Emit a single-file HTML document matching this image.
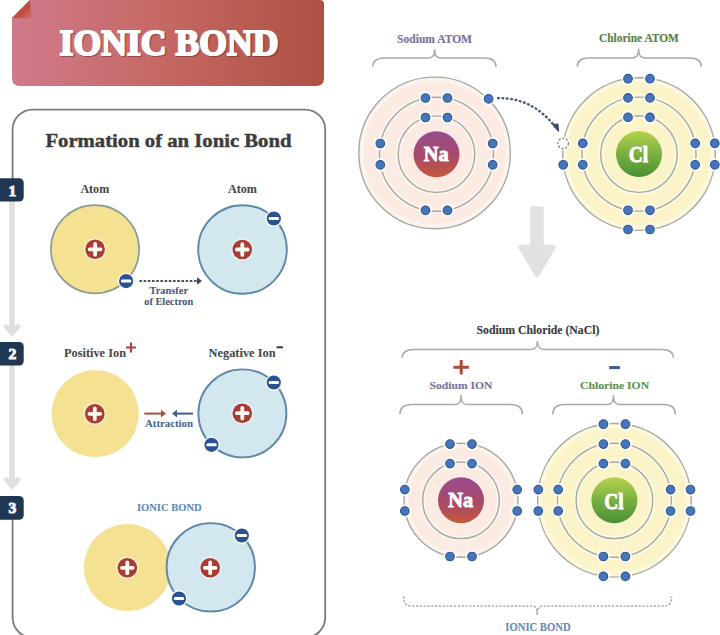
<!DOCTYPE html><html><head><meta charset="utf-8"><style>html,body{margin:0;padding:0;background:#fff;width:720px;height:635px;overflow:hidden}svg{display:block}</style></head><body>
<svg width="720" height="635" viewBox="0 0 720 635" font-family='"Liberation Serif", serif' font-weight="bold">
<defs>
<linearGradient id="ban" x1="0" y1="0" x2="1" y2="0">
<stop offset="0" stop-color="#d07a8c"/><stop offset="0.5" stop-color="#c56762"/><stop offset="1" stop-color="#ad5142"/></linearGradient>
<linearGradient id="na" x1="0" y1="0" x2="0" y2="1">
<stop offset="0" stop-color="#974c90"/><stop offset="0.55" stop-color="#a84a68"/><stop offset="1" stop-color="#c4583a"/></linearGradient>
<linearGradient id="cl" x1="0" y1="0" x2="0" y2="1">
<stop offset="0" stop-color="#b6d24c"/><stop offset="0.5" stop-color="#78b040"/><stop offset="1" stop-color="#4a9036"/></linearGradient>
<linearGradient id="fold" x1="0" y1="0" x2="1" y2="1">
<stop offset="0" stop-color="#a8402e"/><stop offset="0.6" stop-color="#c24f3e"/><stop offset="1" stop-color="#d07080"/></linearGradient>
</defs>
<path d="M12,17.5 L29.5,0 L320,0 Q324,0 324,4 L324,78 Q324,86 316,86 L20,86 Q12,86 12,78 Z" fill="url(#ban)"/>
<path d="M12.5,18 L30,0.5 L31.5,18.5 Z" fill="url(#fold)"/>
<text x="60.7" y="56.4" font-size="35.11" fill="#5a2020" opacity="0.45" stroke="#5a2020" stroke-width="2" stroke-linejoin="round" textLength="219" lengthAdjust="spacingAndGlyphs">IONIC BOND</text>
<text x="59.5" y="54.8" font-size="35.11" fill="#ffffff" stroke="#ffffff" stroke-width="2" stroke-linejoin="round" textLength="219" lengthAdjust="spacingAndGlyphs">IONIC BOND</text>
<rect x="12.6" y="109.6" width="312.6" height="528" rx="20" ry="20" fill="none" stroke="#7c7c7c" stroke-width="1.8"/>
<text x="45.4" y="146.6" font-size="19.54" fill="#3c3c3c" stroke="#3c3c3c" stroke-width="0.45" textLength="246.1" lengthAdjust="spacingAndGlyphs">Formation of an Ionic Bond</text>
<rect x="10" y="200" width="6" height="297" fill="#ffffff"/>
<rect x="9.3" y="201" width="5.6" height="129" fill="#dfdfdf"/>
<path d="M3.8,326.5 L6.6,324.2 L12.1,330.0 L17.6,324.2 L20.6,326.5 L12.1,336.5 Z" fill="#dfdfdf" stroke="#dfdfdf" stroke-width="1" stroke-linejoin="round"/>
<rect x="9.3" y="365" width="5.6" height="119" fill="#dfdfdf"/>
<path d="M3.8,479.5 L6.6,477.2 L12.1,483.0 L17.6,477.2 L20.6,479.5 L12.1,489.5 Z" fill="#dfdfdf" stroke="#dfdfdf" stroke-width="1" stroke-linejoin="round"/>
<rect x="-6" y="178.2" width="29.7" height="23.30000000000001" rx="4.5" fill="#1f3753"/>
<text x="12.3" y="195.5" text-anchor="middle" font-size="15.5" fill="#f4f4f4" stroke="#f4f4f4" stroke-width="1">1</text>
<rect x="-6" y="342" width="29.7" height="23.5" rx="4.5" fill="#1f3753"/>
<text x="12.3" y="359.3" text-anchor="middle" font-size="15.5" fill="#f4f4f4" stroke="#f4f4f4" stroke-width="1">2</text>
<rect x="-6" y="496" width="29.7" height="23.799999999999955" rx="4.5" fill="#1f3753"/>
<text x="12.3" y="513.3" text-anchor="middle" font-size="15.5" fill="#f4f4f4" stroke="#f4f4f4" stroke-width="1">3</text>
<text x="80.4" y="192.9" font-size="12.06" fill="#464646" stroke="#464646" stroke-width="0.05" textLength="28.8" lengthAdjust="spacingAndGlyphs">Atom</text>
<circle cx="95" cy="249.2" r="44.1" fill="#f5e192" stroke="#8b9c96" stroke-width="1.7"/>
<circle cx="95.1" cy="249.3" r="11.200000000000001" fill="#ffffff" fill-opacity="0.55"/>
<circle cx="95.1" cy="249.3" r="9.8" fill="#a83d36"/>
<path d="M89.69999999999999,249.3 H100.5 M95.1,243.9 V254.70000000000002" stroke="#fffbf0" stroke-width="3.8" stroke-linecap="round"/>
<circle cx="126.1" cy="281.1" r="8.4" fill="#fff" fill-opacity="0.9"/>
<circle cx="126.1" cy="281.1" r="7.1" fill="#2c5290"/>
<path d="M122.3,281.1 H129.9" stroke="#fff" stroke-width="3" stroke-linecap="round"/>
<text x="227.9" y="192.9" font-size="12.06" fill="#464646" stroke="#464646" stroke-width="0.05" textLength="29.0" lengthAdjust="spacingAndGlyphs">Atom</text>
<circle cx="242.5" cy="249.5" r="44.3" fill="#d2e7ee" stroke="#6088a8" stroke-width="1.9"/>
<circle cx="242.3" cy="249.5" r="11.200000000000001" fill="#ffffff" fill-opacity="0.55"/>
<circle cx="242.3" cy="249.5" r="9.8" fill="#a83d36"/>
<path d="M236.9,249.5 H247.70000000000002 M242.3,244.1 V254.9" stroke="#fffbf0" stroke-width="3.8" stroke-linecap="round"/>
<circle cx="273.8" cy="218.5" r="8.4" fill="#fff" fill-opacity="0.9"/>
<circle cx="273.8" cy="218.5" r="7.1" fill="#2c5290"/>
<path d="M270.0,218.5 H277.6" stroke="#fff" stroke-width="3" stroke-linecap="round"/>
<line x1="139.4" y1="281" x2="198" y2="281" stroke="#4a5070" stroke-width="2.2" stroke-dasharray="2.6,1.6"/>
<path d="M197,277.3 L202,281 L197,284.7 Z" fill="#3e4668"/>
<text x="149.6" y="294.3" font-size="10.38" fill="#4e5674" stroke="#4e5674" stroke-width="0.05" textLength="38.4" lengthAdjust="spacingAndGlyphs">Transfer</text>
<text x="144.2" y="305.0" font-size="11.15" fill="#4e5674" stroke="#4e5674" stroke-width="0.05" textLength="49.1" lengthAdjust="spacingAndGlyphs">of Electron</text>
<text x="64.0" y="357.2" font-size="12.60" fill="#464646" stroke="#464646" stroke-width="0.05" textLength="62.0" lengthAdjust="spacingAndGlyphs">Positive Ion</text>
<path d="M126,347.5 H136 M131,342.5 V352.5" stroke="#a8443c" stroke-width="2.2"/>
<circle cx="95.2" cy="413.7" r="43.6" fill="#f5e192"/>
<circle cx="94.8" cy="413.8" r="11.200000000000001" fill="#ffffff" fill-opacity="0.55"/>
<circle cx="94.8" cy="413.8" r="9.8" fill="#a83d36"/>
<path d="M89.39999999999999,413.8 H100.2 M94.8,408.40000000000003 V419.2" stroke="#fffbf0" stroke-width="3.8" stroke-linecap="round"/>
<text x="208.5" y="357.2" font-size="12.98" fill="#464646" stroke="#464646" stroke-width="0.05" textLength="67.1" lengthAdjust="spacingAndGlyphs">Negative Ion</text>
<rect x="276.5" y="346.3" width="6.6" height="2" fill="#383838"/>
<circle cx="242.4" cy="413.4" r="44" fill="#d2e7ee" stroke="#6088a8" stroke-width="1.9"/>
<circle cx="242.3" cy="413.2" r="11.200000000000001" fill="#ffffff" fill-opacity="0.55"/>
<circle cx="242.3" cy="413.2" r="9.8" fill="#a83d36"/>
<path d="M236.9,413.2 H247.70000000000002 M242.3,407.8 V418.59999999999997" stroke="#fffbf0" stroke-width="3.8" stroke-linecap="round"/>
<circle cx="273.8" cy="382.5" r="8.4" fill="#fff" fill-opacity="0.9"/>
<circle cx="273.8" cy="382.5" r="7.1" fill="#2c5290"/>
<path d="M270.0,382.5 H277.6" stroke="#fff" stroke-width="3" stroke-linecap="round"/>
<circle cx="211.5" cy="444.8" r="8.4" fill="#fff" fill-opacity="0.9"/>
<circle cx="211.5" cy="444.8" r="7.1" fill="#2c5290"/>
<path d="M207.7,444.8 H215.3" stroke="#fff" stroke-width="3" stroke-linecap="round"/>
<line x1="144.3" y1="413.6" x2="162" y2="413.6" stroke="#a8503e" stroke-width="2"/><path d="M161,409.8 L166,413.6 L161,417.4 Z" fill="#a8503e"/>
<line x1="176" y1="413.6" x2="193" y2="413.6" stroke="#405e88" stroke-width="2"/><path d="M177,409.8 L172,413.6 L177,417.4 Z" fill="#405e88"/>
<text x="145.0" y="427.2" font-size="10.53" fill="#46648c" stroke="#46648c" stroke-width="0.05" textLength="48.0" lengthAdjust="spacingAndGlyphs">Attraction</text>
<text x="136.9" y="510.6" font-size="11.15" fill="#6089b5" stroke="#6089b5" stroke-width="0.1" textLength="64.8" lengthAdjust="spacingAndGlyphs">IONIC BOND</text>
<circle cx="127.4" cy="567.6" r="43.6" fill="#f5e192"/>
<circle cx="210.8" cy="567.3" r="44.2" fill="#d2e7ee" stroke="#6088a8" stroke-width="1.9"/>
<circle cx="127.3" cy="567.8" r="11.200000000000001" fill="#ffffff" fill-opacity="0.55"/>
<circle cx="127.3" cy="567.8" r="9.8" fill="#a83d36"/>
<path d="M121.89999999999999,567.8 H132.7 M127.3,562.4 V573.1999999999999" stroke="#fffbf0" stroke-width="3.8" stroke-linecap="round"/>
<circle cx="210.2" cy="567.8" r="11.200000000000001" fill="#ffffff" fill-opacity="0.55"/>
<circle cx="210.2" cy="567.8" r="9.8" fill="#a83d36"/>
<path d="M204.79999999999998,567.8 H215.6 M210.2,562.4 V573.1999999999999" stroke="#fffbf0" stroke-width="3.8" stroke-linecap="round"/>
<circle cx="241.8" cy="535.5" r="8.4" fill="#fff" fill-opacity="0.9"/>
<circle cx="241.8" cy="535.5" r="7.1" fill="#2c5290"/>
<path d="M238.0,535.5 H245.60000000000002" stroke="#fff" stroke-width="3" stroke-linecap="round"/>
<circle cx="179" cy="598.5" r="8.4" fill="#fff" fill-opacity="0.9"/>
<circle cx="179" cy="598.5" r="7.1" fill="#2c5290"/>
<path d="M175.2,598.5 H182.8" stroke="#fff" stroke-width="3" stroke-linecap="round"/>
<text x="397.1" y="42.5" font-size="11.91" fill="#7a7098" stroke="#7a7098" stroke-width="0.15" textLength="74.9" lengthAdjust="spacingAndGlyphs">Sodium ATOM</text>
<path d="M372.6,66.8 C372.6,61.7 376.20000000000005,58.1 384.6,58.1 L427.6,58.1 C432.5,58.1 434.6,56.1 434.6,49.3 C434.6,56.1 436.70000000000005,58.1 441.6,58.1 L484,58.1 C492.4,58.1 496,61.7 496,66.8" fill="none" stroke="#a9a9a9" stroke-width="1.5"/>
<text x="599.0" y="42.4" font-size="11.76" fill="#5a8048" stroke="#5a8048" stroke-width="0.15" textLength="79.9" lengthAdjust="spacingAndGlyphs">Chlorine ATOM</text>
<path d="M577.3,66.8 C577.3,61.6 580.9,58 589.3,58 L631.6,58 C636.5,58 638.6,56 638.6,48.6 C638.6,56 640.7,58 645.6,58 L689.3,58 C697.6999999999999,58 701.3,61.6 701.3,66.8" fill="none" stroke="#a9a9a9" stroke-width="1.5"/>
<circle cx="434.6" cy="152.9" r="75.8" fill="#fbebe3"/>
<circle cx="436.5" cy="154.2" r="38.3" fill="none" stroke="#ffffff" stroke-opacity="0.45" stroke-width="5"/>
<circle cx="436.5" cy="154.2" r="57" fill="none" stroke="#ffffff" stroke-opacity="0.45" stroke-width="5"/>
<circle cx="434.6" cy="152.9" r="73.3" fill="none" stroke="#ffffff" stroke-opacity="0.4" stroke-width="4"/>
<circle cx="436.5" cy="154.2" r="38.3" fill="none" stroke="#a5a9a0" stroke-width="1.4"/>
<circle cx="436.5" cy="154.2" r="57" fill="none" stroke="#a5a9a0" stroke-width="1.4"/>
<circle cx="434.6" cy="152.9" r="75.8" fill="none" stroke="#a5a9a0" stroke-width="1.4"/>
<circle cx="436.5" cy="154.2" r="23" fill="url(#na)"/>
<text x="423.8" y="160.8" font-size="21.07" fill="#ffffff" stroke="#ffffff" stroke-width="0.9" textLength="24.8" lengthAdjust="spacingAndGlyphs">Na</text>
<circle cx="425.5" cy="117.5" r="6.6" fill="#ffffff" fill-opacity="0.8"/>
<circle cx="425.5" cy="117.5" r="4.3" fill="#4675b8" stroke="#2d5794" stroke-width="1.1"/>
<circle cx="447.5" cy="117.5" r="6.6" fill="#ffffff" fill-opacity="0.8"/>
<circle cx="447.5" cy="117.5" r="4.3" fill="#4675b8" stroke="#2d5794" stroke-width="1.1"/>
<circle cx="425.5" cy="98.0" r="6.6" fill="#ffffff" fill-opacity="0.8"/>
<circle cx="425.5" cy="98.0" r="4.3" fill="#4675b8" stroke="#2d5794" stroke-width="1.1"/>
<circle cx="447.5" cy="98.0" r="6.6" fill="#ffffff" fill-opacity="0.8"/>
<circle cx="447.5" cy="98.0" r="4.3" fill="#4675b8" stroke="#2d5794" stroke-width="1.1"/>
<circle cx="425.5" cy="210.4" r="6.6" fill="#ffffff" fill-opacity="0.8"/>
<circle cx="425.5" cy="210.4" r="4.3" fill="#4675b8" stroke="#2d5794" stroke-width="1.1"/>
<circle cx="447.5" cy="210.4" r="6.6" fill="#ffffff" fill-opacity="0.8"/>
<circle cx="447.5" cy="210.4" r="4.3" fill="#4675b8" stroke="#2d5794" stroke-width="1.1"/>
<circle cx="380.3" cy="143.5" r="6.6" fill="#ffffff" fill-opacity="0.8"/>
<circle cx="380.3" cy="143.5" r="4.3" fill="#4675b8" stroke="#2d5794" stroke-width="1.1"/>
<circle cx="380.3" cy="164.9" r="6.6" fill="#ffffff" fill-opacity="0.8"/>
<circle cx="380.3" cy="164.9" r="4.3" fill="#4675b8" stroke="#2d5794" stroke-width="1.1"/>
<circle cx="492.7" cy="143.5" r="6.6" fill="#ffffff" fill-opacity="0.8"/>
<circle cx="492.7" cy="143.5" r="4.3" fill="#4675b8" stroke="#2d5794" stroke-width="1.1"/>
<circle cx="492.7" cy="164.9" r="6.6" fill="#ffffff" fill-opacity="0.8"/>
<circle cx="492.7" cy="164.9" r="4.3" fill="#4675b8" stroke="#2d5794" stroke-width="1.1"/>
<circle cx="488.6" cy="98.9" r="6.6" fill="#ffffff" fill-opacity="0.8"/>
<circle cx="488.6" cy="98.9" r="4.3" fill="#4675b8" stroke="#2d5794" stroke-width="1.1"/>
<circle cx="639" cy="154.1" r="76.3" fill="#fcf4c9"/>
<circle cx="639" cy="154.1" r="38.3" fill="none" stroke="#ffffff" stroke-opacity="0.45" stroke-width="5"/>
<circle cx="639" cy="154.1" r="57" fill="none" stroke="#ffffff" stroke-opacity="0.45" stroke-width="5"/>
<circle cx="639" cy="154.1" r="73.8" fill="none" stroke="#ffffff" stroke-opacity="0.4" stroke-width="4"/>
<circle cx="639" cy="154.1" r="38.3" fill="none" stroke="#a5a9a0" stroke-width="1.4"/>
<circle cx="639" cy="154.1" r="57" fill="none" stroke="#a5a9a0" stroke-width="1.4"/>
<circle cx="639" cy="154.1" r="76.3" fill="none" stroke="#a5a9a0" stroke-width="1.4"/>
<circle cx="639" cy="154.1" r="23" fill="url(#cl)"/>
<text x="628.8" y="162.3" font-size="23.21" fill="#ffffff" stroke="#ffffff" stroke-width="0.9" textLength="19.4" lengthAdjust="spacingAndGlyphs">Cl</text>
<circle cx="628.0" cy="117.4" r="6.6" fill="#ffffff" fill-opacity="0.8"/>
<circle cx="628.0" cy="117.4" r="4.3" fill="#4675b8" stroke="#2d5794" stroke-width="1.1"/>
<circle cx="650.0" cy="117.4" r="6.6" fill="#ffffff" fill-opacity="0.8"/>
<circle cx="650.0" cy="117.4" r="4.3" fill="#4675b8" stroke="#2d5794" stroke-width="1.1"/>
<circle cx="628.0" cy="97.9" r="6.6" fill="#ffffff" fill-opacity="0.8"/>
<circle cx="628.0" cy="97.9" r="4.3" fill="#4675b8" stroke="#2d5794" stroke-width="1.1"/>
<circle cx="650.0" cy="97.9" r="6.6" fill="#ffffff" fill-opacity="0.8"/>
<circle cx="650.0" cy="97.9" r="4.3" fill="#4675b8" stroke="#2d5794" stroke-width="1.1"/>
<circle cx="628.0" cy="210.3" r="6.6" fill="#ffffff" fill-opacity="0.8"/>
<circle cx="628.0" cy="210.3" r="4.3" fill="#4675b8" stroke="#2d5794" stroke-width="1.1"/>
<circle cx="650.0" cy="210.3" r="6.6" fill="#ffffff" fill-opacity="0.8"/>
<circle cx="650.0" cy="210.3" r="4.3" fill="#4675b8" stroke="#2d5794" stroke-width="1.1"/>
<circle cx="582.8" cy="143.4" r="6.6" fill="#ffffff" fill-opacity="0.8"/>
<circle cx="582.8" cy="143.4" r="4.3" fill="#4675b8" stroke="#2d5794" stroke-width="1.1"/>
<circle cx="582.8" cy="164.8" r="6.6" fill="#ffffff" fill-opacity="0.8"/>
<circle cx="582.8" cy="164.8" r="4.3" fill="#4675b8" stroke="#2d5794" stroke-width="1.1"/>
<circle cx="695.2" cy="143.4" r="6.6" fill="#ffffff" fill-opacity="0.8"/>
<circle cx="695.2" cy="143.4" r="4.3" fill="#4675b8" stroke="#2d5794" stroke-width="1.1"/>
<circle cx="695.2" cy="164.8" r="6.6" fill="#ffffff" fill-opacity="0.8"/>
<circle cx="695.2" cy="164.8" r="4.3" fill="#4675b8" stroke="#2d5794" stroke-width="1.1"/>
<circle cx="628.0" cy="78.7" r="6.6" fill="#ffffff" fill-opacity="0.8"/>
<circle cx="628.0" cy="78.7" r="4.3" fill="#4675b8" stroke="#2d5794" stroke-width="1.1"/>
<circle cx="650.0" cy="78.7" r="6.6" fill="#ffffff" fill-opacity="0.8"/>
<circle cx="650.0" cy="78.7" r="4.3" fill="#4675b8" stroke="#2d5794" stroke-width="1.1"/>
<circle cx="628.0" cy="229.5" r="6.6" fill="#ffffff" fill-opacity="0.8"/>
<circle cx="628.0" cy="229.5" r="4.3" fill="#4675b8" stroke="#2d5794" stroke-width="1.1"/>
<circle cx="650.0" cy="229.5" r="6.6" fill="#ffffff" fill-opacity="0.8"/>
<circle cx="650.0" cy="229.5" r="4.3" fill="#4675b8" stroke="#2d5794" stroke-width="1.1"/>
<circle cx="563.2" cy="164.8" r="6.6" fill="#ffffff" fill-opacity="0.8"/>
<circle cx="563.2" cy="164.8" r="4.3" fill="#4675b8" stroke="#2d5794" stroke-width="1.1"/>
<circle cx="714.8" cy="143.4" r="6.6" fill="#ffffff" fill-opacity="0.8"/>
<circle cx="714.8" cy="143.4" r="4.3" fill="#4675b8" stroke="#2d5794" stroke-width="1.1"/>
<circle cx="714.8" cy="164.8" r="6.6" fill="#ffffff" fill-opacity="0.8"/>
<circle cx="714.8" cy="164.8" r="4.3" fill="#4675b8" stroke="#2d5794" stroke-width="1.1"/>
<circle cx="563.2" cy="143.4" r="7" fill="#fff"/>
<circle cx="563.2" cy="143.4" r="5.2" fill="#fff" stroke="#7d8288" stroke-width="1.3" stroke-dasharray="2.2,1.6"/>
<path d="M497,98.2 Q533,97 556,128" fill="none" stroke="#4a5673" stroke-width="2.3" stroke-dasharray="2.8,1.6"/>
<path d="M552.5,124.5 L558.5,131.5 L558,124 Z" fill="#3f4a6a" stroke="#3f4a6a" stroke-width="1" stroke-linejoin="round"/>
<path d="M532.5,208.5 L541.5,208.5 L541.5,247 L553.5,247 L537,275 L520.5,247 L532.5,247 Z" fill="#e1e1e1" stroke="#e1e1e1" stroke-width="4.5" stroke-linejoin="round"/>
<text x="476.5" y="334.2" font-size="11.76" fill="#3a3a3a" stroke="#3a3a3a" stroke-width="0.15" textLength="122.9" lengthAdjust="spacingAndGlyphs">Sodium Chloride (NaCl)</text>
<path d="M402.2,357.8 C402.2,353.0 405.8,349.4 414.2,349.4 L530.5,349.4 C535.4,349.4 537.5,347.4 537.5,341 C537.5,347.4 539.6,349.4 544.5,349.4 L661.3,349.4 C669.6999999999999,349.4 673.3,353.0 673.3,357.8" fill="none" stroke="#a9a9a9" stroke-width="1.5"/>
<path d="M453.4,367.2 H468.9 M461.2,359.9 V374.5" stroke="#ad4a3a" stroke-width="3"/>
<rect x="609.2" y="366.1" width="10.7" height="3" fill="#3e5a8a"/>
<text x="429.6" y="389.0" font-size="10.38" fill="#7a76a2" stroke="#7a76a2" stroke-width="0.15" textLength="62.7" lengthAdjust="spacingAndGlyphs">Sodium ION</text>
<text x="580.0" y="389.0" font-size="10.99" fill="#5f9352" stroke="#5f9352" stroke-width="0.15" textLength="69.1" lengthAdjust="spacingAndGlyphs">Chlorine ION</text>
<path d="M399.9,414.3 C399.9,408.20000000000005 403.5,404.6 411.9,404.6 L454.1,404.6 C459.0,404.6 461.1,402.6 461.1,394.9 C461.1,402.6 463.20000000000005,404.6 468.1,404.6 L510.4,404.6 C518.8,404.6 522.4,408.20000000000005 522.4,414.3" fill="none" stroke="#a9a9a9" stroke-width="1.5"/>
<path d="M552.8,414.3 C552.8,408.20000000000005 556.4,404.6 564.8,404.6 L606.5,404.6 C611.4,404.6 613.5,402.6 613.5,394.9 C613.5,402.6 615.6,404.6 620.5,404.6 L663.4,404.6 C671.8,404.6 675.4,408.20000000000005 675.4,414.3" fill="none" stroke="#a9a9a9" stroke-width="1.5"/>
<circle cx="461" cy="500.3" r="57" fill="#fbebe3"/>
<circle cx="461" cy="500.3" r="38.3" fill="none" stroke="#ffffff" stroke-opacity="0.45" stroke-width="5"/>
<circle cx="461" cy="500.3" r="54.5" fill="none" stroke="#ffffff" stroke-opacity="0.4" stroke-width="4"/>
<circle cx="461" cy="500.3" r="38.3" fill="none" stroke="#a5a9a0" stroke-width="1.4"/>
<circle cx="461" cy="500.3" r="57" fill="none" stroke="#a5a9a0" stroke-width="1.4"/>
<circle cx="461" cy="500.3" r="23" fill="url(#na)"/>
<text x="448.3" y="506.9" font-size="21.07" fill="#ffffff" stroke="#ffffff" stroke-width="0.9" textLength="24.8" lengthAdjust="spacingAndGlyphs">Na</text>
<circle cx="450.0" cy="463.6" r="6.6" fill="#ffffff" fill-opacity="0.8"/>
<circle cx="450.0" cy="463.6" r="4.3" fill="#4675b8" stroke="#2d5794" stroke-width="1.1"/>
<circle cx="472.0" cy="463.6" r="6.6" fill="#ffffff" fill-opacity="0.8"/>
<circle cx="472.0" cy="463.6" r="4.3" fill="#4675b8" stroke="#2d5794" stroke-width="1.1"/>
<circle cx="450.0" cy="444.1" r="6.6" fill="#ffffff" fill-opacity="0.8"/>
<circle cx="450.0" cy="444.1" r="4.3" fill="#4675b8" stroke="#2d5794" stroke-width="1.1"/>
<circle cx="472.0" cy="444.1" r="6.6" fill="#ffffff" fill-opacity="0.8"/>
<circle cx="472.0" cy="444.1" r="4.3" fill="#4675b8" stroke="#2d5794" stroke-width="1.1"/>
<circle cx="450.0" cy="556.5" r="6.6" fill="#ffffff" fill-opacity="0.8"/>
<circle cx="450.0" cy="556.5" r="4.3" fill="#4675b8" stroke="#2d5794" stroke-width="1.1"/>
<circle cx="472.0" cy="556.5" r="6.6" fill="#ffffff" fill-opacity="0.8"/>
<circle cx="472.0" cy="556.5" r="4.3" fill="#4675b8" stroke="#2d5794" stroke-width="1.1"/>
<circle cx="404.8" cy="489.6" r="6.6" fill="#ffffff" fill-opacity="0.8"/>
<circle cx="404.8" cy="489.6" r="4.3" fill="#4675b8" stroke="#2d5794" stroke-width="1.1"/>
<circle cx="404.8" cy="511.0" r="6.6" fill="#ffffff" fill-opacity="0.8"/>
<circle cx="404.8" cy="511.0" r="4.3" fill="#4675b8" stroke="#2d5794" stroke-width="1.1"/>
<circle cx="517.2" cy="489.6" r="6.6" fill="#ffffff" fill-opacity="0.8"/>
<circle cx="517.2" cy="489.6" r="4.3" fill="#4675b8" stroke="#2d5794" stroke-width="1.1"/>
<circle cx="517.2" cy="511.0" r="6.6" fill="#ffffff" fill-opacity="0.8"/>
<circle cx="517.2" cy="511.0" r="4.3" fill="#4675b8" stroke="#2d5794" stroke-width="1.1"/>
<circle cx="614.4" cy="500.3" r="76.8" fill="#fcf4c9"/>
<circle cx="614.4" cy="500.3" r="38.3" fill="none" stroke="#ffffff" stroke-opacity="0.45" stroke-width="5"/>
<circle cx="614.4" cy="500.3" r="57" fill="none" stroke="#ffffff" stroke-opacity="0.45" stroke-width="5"/>
<circle cx="614.4" cy="500.3" r="74.3" fill="none" stroke="#ffffff" stroke-opacity="0.4" stroke-width="4"/>
<circle cx="614.4" cy="500.3" r="38.3" fill="none" stroke="#a5a9a0" stroke-width="1.4"/>
<circle cx="614.4" cy="500.3" r="57" fill="none" stroke="#a5a9a0" stroke-width="1.4"/>
<circle cx="614.4" cy="500.3" r="76.8" fill="none" stroke="#a5a9a0" stroke-width="1.4"/>
<circle cx="614.4" cy="500.3" r="23" fill="url(#cl)"/>
<text x="604.2" y="508.5" font-size="23.21" fill="#ffffff" stroke="#ffffff" stroke-width="0.9" textLength="19.4" lengthAdjust="spacingAndGlyphs">Cl</text>
<circle cx="603.4" cy="463.6" r="6.6" fill="#ffffff" fill-opacity="0.8"/>
<circle cx="603.4" cy="463.6" r="4.3" fill="#4675b8" stroke="#2d5794" stroke-width="1.1"/>
<circle cx="625.4" cy="463.6" r="6.6" fill="#ffffff" fill-opacity="0.8"/>
<circle cx="625.4" cy="463.6" r="4.3" fill="#4675b8" stroke="#2d5794" stroke-width="1.1"/>
<circle cx="603.4" cy="444.1" r="6.6" fill="#ffffff" fill-opacity="0.8"/>
<circle cx="603.4" cy="444.1" r="4.3" fill="#4675b8" stroke="#2d5794" stroke-width="1.1"/>
<circle cx="625.4" cy="444.1" r="6.6" fill="#ffffff" fill-opacity="0.8"/>
<circle cx="625.4" cy="444.1" r="4.3" fill="#4675b8" stroke="#2d5794" stroke-width="1.1"/>
<circle cx="603.4" cy="556.5" r="6.6" fill="#ffffff" fill-opacity="0.8"/>
<circle cx="603.4" cy="556.5" r="4.3" fill="#4675b8" stroke="#2d5794" stroke-width="1.1"/>
<circle cx="625.4" cy="556.5" r="6.6" fill="#ffffff" fill-opacity="0.8"/>
<circle cx="625.4" cy="556.5" r="4.3" fill="#4675b8" stroke="#2d5794" stroke-width="1.1"/>
<circle cx="558.2" cy="489.6" r="6.6" fill="#ffffff" fill-opacity="0.8"/>
<circle cx="558.2" cy="489.6" r="4.3" fill="#4675b8" stroke="#2d5794" stroke-width="1.1"/>
<circle cx="558.2" cy="511.0" r="6.6" fill="#ffffff" fill-opacity="0.8"/>
<circle cx="558.2" cy="511.0" r="4.3" fill="#4675b8" stroke="#2d5794" stroke-width="1.1"/>
<circle cx="670.6" cy="489.6" r="6.6" fill="#ffffff" fill-opacity="0.8"/>
<circle cx="670.6" cy="489.6" r="4.3" fill="#4675b8" stroke="#2d5794" stroke-width="1.1"/>
<circle cx="670.6" cy="511.0" r="6.6" fill="#ffffff" fill-opacity="0.8"/>
<circle cx="670.6" cy="511.0" r="4.3" fill="#4675b8" stroke="#2d5794" stroke-width="1.1"/>
<circle cx="603.4" cy="424.2" r="6.6" fill="#ffffff" fill-opacity="0.8"/>
<circle cx="603.4" cy="424.2" r="4.3" fill="#4675b8" stroke="#2d5794" stroke-width="1.1"/>
<circle cx="625.4" cy="424.2" r="6.6" fill="#ffffff" fill-opacity="0.8"/>
<circle cx="625.4" cy="424.2" r="4.3" fill="#4675b8" stroke="#2d5794" stroke-width="1.1"/>
<circle cx="603.4" cy="576.4" r="6.6" fill="#ffffff" fill-opacity="0.8"/>
<circle cx="603.4" cy="576.4" r="4.3" fill="#4675b8" stroke="#2d5794" stroke-width="1.1"/>
<circle cx="625.4" cy="576.4" r="6.6" fill="#ffffff" fill-opacity="0.8"/>
<circle cx="625.4" cy="576.4" r="4.3" fill="#4675b8" stroke="#2d5794" stroke-width="1.1"/>
<circle cx="538.3" cy="489.6" r="6.6" fill="#ffffff" fill-opacity="0.8"/>
<circle cx="538.3" cy="489.6" r="4.3" fill="#4675b8" stroke="#2d5794" stroke-width="1.1"/>
<circle cx="538.3" cy="511.0" r="6.6" fill="#ffffff" fill-opacity="0.8"/>
<circle cx="538.3" cy="511.0" r="4.3" fill="#4675b8" stroke="#2d5794" stroke-width="1.1"/>
<circle cx="690.5" cy="489.6" r="6.6" fill="#ffffff" fill-opacity="0.8"/>
<circle cx="690.5" cy="489.6" r="4.3" fill="#4675b8" stroke="#2d5794" stroke-width="1.1"/>
<circle cx="690.5" cy="511.0" r="6.6" fill="#ffffff" fill-opacity="0.8"/>
<circle cx="690.5" cy="511.0" r="4.3" fill="#4675b8" stroke="#2d5794" stroke-width="1.1"/>
<path d="M403.6,596.2 C403.6,603.6 406.0,606 411.6,606 L531.2,606 C535.4000000000001,606 537.2,608 537.2,615 C537.2,608 539.0,606 543.2,606 L663.5,606 C669.1,606 671.5,603.6 671.5,596.2" fill="none" stroke="#a4acb4" stroke-width="1.6" stroke-dasharray="2.2,1.6"/>
<text x="505.3" y="631.0" font-size="11.45" fill="#6a8bb0" stroke="#6a8bb0" stroke-width="0.1" textLength="65.3" lengthAdjust="spacingAndGlyphs">IONIC BOND</text>
</svg></body></html>
